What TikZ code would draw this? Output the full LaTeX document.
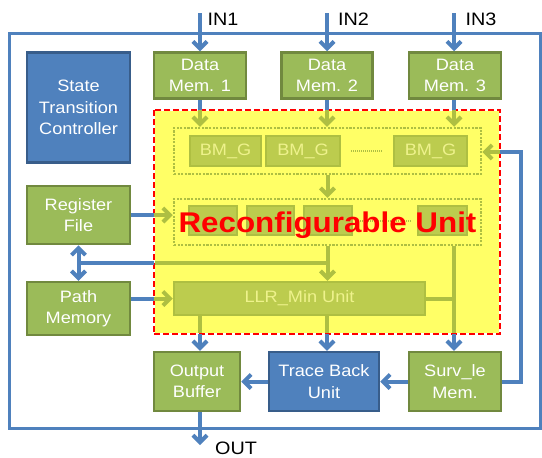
\documentclass[tikz,border=0pt]{standalone}
\usepackage{fontspec}
\setmainfont[FakeStretch=1.1]{Liberation Sans}
\usetikzlibrary{arrows.meta}
\definecolor{gfill}{HTML}{9BBB59}
\definecolor{gline}{HTML}{71893F}
\definecolor{bfill}{HTML}{4F81BD}
\definecolor{bline}{HTML}{385D8A}
\definecolor{ylw}{HTML}{FFFF66}
\definecolor{ifill}{HTML}{BCCC4E}
\definecolor{iline}{HTML}{AEBF42}
\definecolor{itext}{HTML}{EEF28C}
\begin{document}
\begin{tikzpicture}[x=1pt,y=-1pt,
  gbox/.style={draw=gline,fill=gfill,line width=2.5pt,text=white,align=center,
    font=\fontsize{16.5}{21.5}\selectfont,inner sep=0pt},
  bbox/.style={gbox,draw=bline,fill=bfill},
  ibox/.style={draw=iline,fill=ifill,line width=2.5pt,text=itext,align=center,
    font=\fontsize{16.5}{21.5}\selectfont,inner sep=0pt},
  grp/.style={draw=iline,line width=2.5pt,dash pattern=on 2.2pt off 1.4pt,inner sep=0pt},
  tipb/.tip={Straight Barb[length=7pt,width=14pt]},
  bar/.style={draw=bfill,line width=4pt},
  barr/.style={bar,-tipb},
  iar/.style={draw=iline,line width=4pt},
  iarr/.style={iar,-tipb},
  lbl/.style={font=\fontsize{18}{20}\selectfont,text=black,inner sep=0pt}
]
\useasboundingbox (0,0) rectangle (542,458);
\fill[white] (0,0) rectangle (542,458);
% outer frame
\draw[draw=bfill,line width=3pt] (9,33) rectangle (540,428);

% reconfigurable unit area
\node[fill=ylw,minimum width=346pt,minimum height=224pt,inner sep=0pt] (ru) at (327,222) {};
\node[grp,minimum width=307pt,minimum height=46pt] (g1) at (327.5,151) {};
\node[ibox,minimum width=71pt,minimum height=30pt] (bm1) at (225.5,151) {BM\_G};
\node[ibox,minimum width=74pt,minimum height=30pt] (bm2) at (303,151) {BM\_G};
\node[ibox,minimum width=73pt,minimum height=30pt] (bm3) at (430.5,151) {BM\_G};
\draw[iline,line width=2pt,dash pattern=on 1pt off 1pt] ([xshift=10pt]bm2.east) -- ([xshift=-10pt]bm3.west);

\node[grp,minimum width=307pt,minimum height=46pt] (g2) at (327.5,222) {};
\node[ibox,minimum width=48pt,minimum height=29pt] (r1) at (213,220.5) {};
\node[ibox,minimum width=47pt,minimum height=29pt] (r2) at (270.5,220.5) {};
\node[ibox,minimum width=48pt,minimum height=29pt] (r3) at (328,220.5) {};
\node[ibox,minimum width=49pt,minimum height=29pt] (r4) at (442.5,220.5) {};
\draw[iline,line width=2pt,dash pattern=on 1pt off 1pt] ([xshift=5pt]r3.east) -- ([xshift=-5pt]r4.west);

\node[ibox,minimum width=251pt,minimum height=33pt] (llr) at (299.5,298.5) {LLR\_Min Unit};

% coordinates for vertical connector columns
\coordinate (o1) at (200,0);
\coordinate (o2) at (327,0);
\coordinate (o3) at (454,0);
\coordinate (hj) at (79,263);
\coordinate (lpb) at (521,152);
\coordinate (outp) at (200,445);

% inner connectors
\draw[iarr] (g1.south) -- (g2.north);
\draw[iarr] (g2.south) -- (llr.north -| g2.south);
\draw[iar] (ru.west |- hj) -- (g2.south |- hj);
\draw[iar] (g2.south -| o3) -- (ru.south -| o3);
\draw[iar] (llr.east) -- (llr.east -| o3);
\draw[iar] (llr.south -| o1) -- (ru.south -| o1);
\draw[iar] (llr.south -| o2) -- (ru.south -| o2);

\node[text=red,font=\fontsize{28.5}{30}\selectfont\bfseries,inner sep=0pt,anchor=base] (rutxt) at (327.5,232) {Reconfigurable Unit};

% red dashed border
\draw[white,line width=2.5pt] (ru.north west) rectangle (ru.south east);
\draw[red,line width=2.5pt,dash pattern=on 6pt off 3pt] (ru.north west) rectangle (ru.south east);

% outer boxes
\node[bbox,minimum width=103pt,minimum height=110pt] (stc) at (78.5,107.5) {State\\Transition\\Controller};
\node[gbox,minimum width=92pt,minimum height=46pt] (dm1) at (200,75.5) {Data\\Mem. 1};
\node[gbox,minimum width=91pt,minimum height=46pt] (dm2) at (327,75.5) {Data\\Mem. 2};
\node[gbox,minimum width=92pt,minimum height=46pt] (dm3) at (455,75.5) {Data\\Mem. 3};
\node[gbox,minimum width=103pt,minimum height=58pt] (rf) at (78.5,215) {Register\\File};
\node[gbox,minimum width=103pt,minimum height=53pt] (pm) at (78.5,308.5) {Path\\Memory};
\node[gbox,minimum width=86pt,minimum height=59pt] (ob) at (197,381.5) {Output\\Buffer};
\node[bbox,minimum width=110pt,minimum height=59pt] (tbu) at (324,381.5) {Trace Back\\Unit};
\node[gbox,minimum width=92pt,minimum height=59pt] (sm) at (455,381.5) {Surv\_le\\Mem.};

% inputs
\coordinate (in1) at (200,13);
\coordinate (in2) at (327,13);
\coordinate (in3) at (454,13);
\draw[barr] (in1) -- (dm1.north -| in1);
\draw[barr] (in2) -- (dm2.north -| in2);
\draw[barr] (in3) -- (dm3.north -| in3);
\node[lbl] (l1) at (223,19.5) {IN1};
\node[lbl] (l2) at (353.5,19.5) {IN2};
\node[lbl] (l3) at (481,19.5) {IN3};

% data mem to groups
\draw[bar] (dm1.south -| in1) -- (ru.north -| in1);
\draw[iarr] (ru.north -| in1) -- (g1.north -| in1);
\draw[bar] (dm2.south -| in2) -- (ru.north -| in2);
\draw[iarr] (ru.north -| in2) -- (g1.north -| in2);
\draw[bar] (dm3.south -| in3) -- (ru.north -| in3);
\draw[iarr] (ru.north -| in3) -- (g1.north -| in3);

% register file / path memory
\draw[bar,tipb-tipb] (rf.south) -- (pm.north);
\draw[bar] (hj) -- (ru.west |- hj);
\draw[bar] (rf.east) -- (ru.west |- rf.east);
\draw[iarr] (ru.west |- rf.east) -- (g2.west |- rf.east);
\draw[bar] (pm.east |- llr.west) -- (ru.west |- llr.west);
\draw[iarr] (ru.west |- llr.west) -- (llr.west);

% outputs of unit
\draw[barr] (ru.south -| o1) -- (ob.north -| o1);
\draw[barr] (ru.south -| o2) -- (tbu.north -| o2);
\draw[barr] (ru.south -| o3) -- (sm.north -| o3);

% bottom row
\draw[barr] (sm.west) -- (tbu.east);
\draw[barr] (tbu.west) -- (ob.east);
\draw[barr] (ob.south -| outp) -- (outp);
\node[lbl] (outl) at (236,448) {OUT};

% feedback loop
\draw[bar] (sm.east) -- (sm.east -| lpb) -- (lpb) -- (ru.east |- lpb);
\draw[iarr] (ru.east |- lpb) -- (g1.east |- lpb);
\end{tikzpicture}
\end{document}
